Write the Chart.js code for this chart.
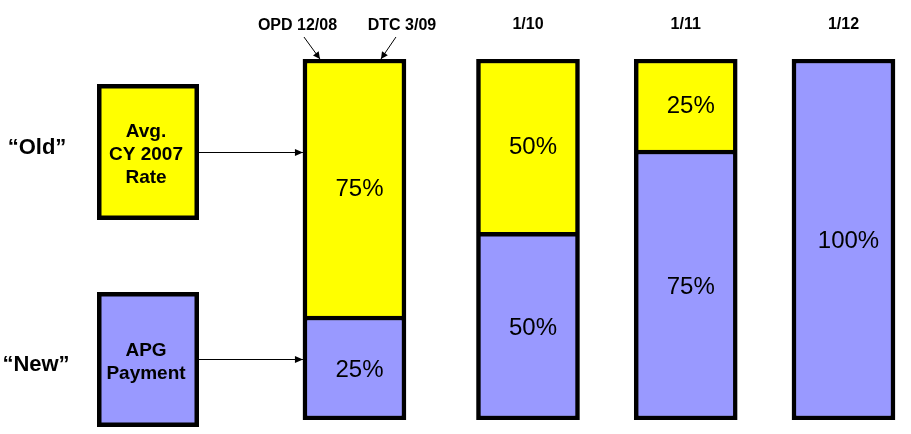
<!DOCTYPE html>
<html>
<head>
<meta charset="utf-8">
<script src="https://cdn.jsdelivr.net/npm/chart.js@4"></script>
<style>
  html, body { margin: 0; padding: 0; background: #fff; }
  #wrap { width: 911px; height: 434px; }
</style>
</head>
<body>
<div id="wrap"><canvas id="c" width="911" height="434"></canvas></div>
<script>
// ---- data ----
const periodYears = [2008.9, 2010, 2011, 2012];          // bar positions (decimal years)
const periodLabels = ['', '1/10', '1/11', '1/12'];        // labels above bars
const startMarkers = ['OPD 12/08', 'DTC 3/09'];           // labels above first bar
const newShare = [28.8, 52, 74.8, 100];                   // "New" (APG) height as drawn
const oldShare = [71.2, 48, 25.2, null];                  // "Old" (CY 2007) height as drawn
const newLabels = ['25%', '50%', '75%', '100%'];
const oldLabels = ['75%', '50%', '25%', ''];
const rowLabels = ['\u201COld\u201D', '\u201CNew\u201D'];
const oldBoxLines = ['Avg.', 'CY 2007', 'Rate'];
const newBoxLines = ['APG', 'Payment'];

const YELLOW = '#FFFF00';
const BLUE = '#9999FF';
const BW = 4.5;
const FONT = '"Liberation Sans", Arial, sans-serif';

function arrow(ctx, x1, y1, x2, y2, len, half) {
  ctx.beginPath(); ctx.moveTo(x1, y1); ctx.lineTo(x2, y2); ctx.stroke();
  const a = Math.atan2(y2 - y1, x2 - x1);
  ctx.beginPath();
  ctx.moveTo(x2, y2);
  ctx.lineTo(x2 - len * Math.cos(a) + half * Math.sin(a), y2 - len * Math.sin(a) - half * Math.cos(a));
  ctx.lineTo(x2 - len * Math.cos(a) - half * Math.sin(a), y2 - len * Math.sin(a) + half * Math.cos(a));
  ctx.closePath(); ctx.fill();
}

function box(ctx, x, y, w, h, color) {
  ctx.fillStyle = '#000';
  ctx.fillRect(x, y, w, h);
  ctx.fillStyle = color;
  ctx.fillRect(x + BW, y + BW, w - 2 * BW, h - 2 * BW);
}

const overlay = {
  id: 'overlay',
  afterDatasetsDraw(chart) {
    const ctx = chart.ctx;
    const mNew = chart.getDatasetMeta(0);
    const mOld = chart.getDatasetMeta(1);
    ctx.save();

    // segment percentage labels
    ctx.fillStyle = '#000';
    ctx.textAlign = 'center';
    ctx.textBaseline = 'middle';
    ctx.font = '24px ' + FONT;
    mNew.data.forEach((el, i) => {
      const p = el.getProps(['x', 'y', 'base'], true);
      ctx.fillText(newLabels[i], p.x + 5, (p.y + p.base) / 2 + 2);
    });
    mOld.data.forEach((el, i) => {
      if (oldShare[i] == null) return;
      const p = el.getProps(['x', 'y', 'base'], true);
      ctx.fillText(oldLabels[i], p.x + 5, (p.y + p.base) / 2 + 2);
    });

    // period labels above bars
    ctx.font = 'bold 16px ' + FONT;
    ctx.textBaseline = 'alphabetic';
    mNew.data.forEach((el, i) => {
      if (periodLabels[i]) ctx.fillText(periodLabels[i], el.x, 29);
    });

    // first bar: OPD / DTC markers with arrows
    const b0 = mNew.data[0];
    const left = b0.x - b0.width / 2, right = b0.x + b0.width / 2;
    const top = chart.scales.y.getPixelForValue(100);
    ctx.fillText(startMarkers[0], left - 5.5, 29.5);
    ctx.fillText(startMarkers[1], right - 4, 29.5);
    ctx.strokeStyle = '#000'; ctx.fillStyle = '#000'; ctx.lineWidth = 1;
    arrow(ctx, left + 1, 37, left + 17, top, 7, 3.5);
    arrow(ctx, right - 10, 37, right - 25, top, 7, 3.5);

    // left legend boxes
    const bx = 97, bw = 102;
    box(ctx, bx, 84, bw, 136, YELLOW);
    box(ctx, bx, 292, bw, 135, BLUE);
    ctx.fillStyle = '#000';
    ctx.font = 'bold 19px ' + FONT;
    ctx.textAlign = 'center';
    oldBoxLines.forEach((t, i) => ctx.fillText(t, bx + bw / 2 - 2, 137 + i * 23));
    newBoxLines.forEach((t, i) => ctx.fillText(t, bx + bw / 2 - 2, 356 + i * 23));

    // row labels
    ctx.font = 'bold 22px ' + FONT;
    ctx.fillText(rowLabels[0], 37, 154);
    ctx.fillText(rowLabels[1], 36, 371);

    // arrows from boxes to first bar
    ctx.lineWidth = 1;
    arrow(ctx, bx + bw, 152.5, left, 152.5, 8, 3.5);
    arrow(ctx, bx + bw, 359.5, left, 359.5, 8, 3.5);

    ctx.restore();
  }
};

new Chart(document.getElementById('c'), {
  type: 'bar',
  data: {
    datasets: [
      {
        label: 'New',
        data: periodYears.map((x, i) => ({ x: x, y: newShare[i] })),
        backgroundColor: BLUE,
        borderColor: '#000',
        borderWidth: BW,
        borderSkipped: false,
        barThickness: 103
      },
      {
        label: 'Old',
        data: periodYears.map((x, i) => ({ x: x, y: oldShare[i] })),
        backgroundColor: YELLOW,
        borderColor: '#000',
        borderWidth: BW,
        borderSkipped: 'start',
        barThickness: 103
      }
    ]
  },
  options: {
    responsive: false,
    animation: false,
    layout: { padding: { top: 59, bottom: 14, left: 0, right: 0 } },
    plugins: { legend: { display: false }, tooltip: { enabled: false } },
    scales: {
      x: { type: 'linear', min: 2006.653, max: 2012.428, offset: false, stacked: true, display: false },
      y: { min: 0, max: 100, stacked: true, display: false }
    }
  },
  plugins: [overlay]
});
</script>
</body>
</html>
